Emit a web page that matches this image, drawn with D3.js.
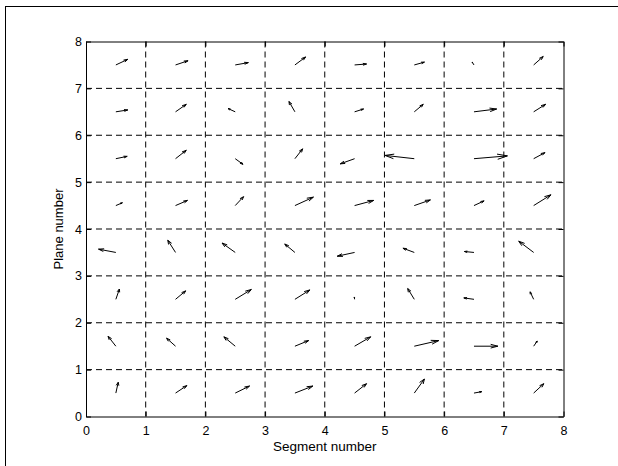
<!DOCTYPE html>
<html>

<head>
  <meta charset="utf8">
  <script src="https://d3js.org/d3.v7.min.js"></script>
  <style>
    body { margin: 0; background: #fff; }
    text { font-family: "Liberation Sans", Arial, sans-serif; fill: #000; }
  </style>
</head>

<body>
  <svg id="chart" width="618" height="466"></svg>
  <script>
    // arrow origins (cell centres)
    var segments = [0.5, 1.5, 2.5, 3.5, 4.5, 5.5, 6.5, 7.5];
    var planes = [0.5, 1.5, 2.5, 3.5, 4.5, 5.5, 6.5, 7.5];
    var ticks = [0, 1, 2, 3, 4, 5, 6, 7, 8];

    // u / v components, one row per plane (bottom row first)
    var U = [
      [0.04, 0.19, 0.24, 0.30, 0.20, 0.17, 0.13, 0.17],
      [-0.13, -0.15, -0.19, 0.23, 0.27, 0.41, 0.40, 0.06],
      [0.06, 0.17, 0.27, 0.25, -0.005, -0.11, -0.17, -0.06],
      [-0.29, -0.13, -0.22, -0.17, -0.29, -0.19, -0.16, -0.25],
      [0.11, 0.20, 0.14, 0.31, 0.32, 0.27, 0.17, 0.29],
      [0.19, 0.18, 0.13, 0.13, -0.24, -0.49, 0.56, 0.19],
      [0.20, 0.18, -0.12, -0.10, 0.15, 0.15, 0.38, 0.20],
      [0.20, 0.21, 0.22, 0.18, 0.20, 0.17, -0.03, 0.16]
    ];
    var V = [
      [0.23, 0.16, 0.15, 0.15, 0.20, 0.30, 0.03, 0.20],
      [0.21, 0.17, 0.20, 0.12, 0.20, 0.12, 0.00, 0.11],
      [0.22, 0.18, 0.21, 0.20, 0.05, 0.23, 0.03, 0.16],
      [0.07, 0.26, 0.20, 0.18, -0.08, 0.09, 0.02, 0.24],
      [0.06, 0.11, 0.19, 0.18, 0.11, 0.12, 0.10, 0.23],
      [0.05, 0.18, -0.12, 0.21, -0.11, 0.07, 0.06, 0.13],
      [0.04, 0.16, 0.07, 0.22, 0.06, 0.16, 0.06, 0.16],
      [0.12, 0.09, 0.05, 0.17, 0.02, 0.06, 0.06, 0.18]
    ];

    var chart = d3.select('#chart');
    var margin = { top: 41.5, right: 54.5, bottom: 49.5, left: 86 };
    var width = 618 - margin.left - margin.right;
    var height = 466 - margin.top - margin.bottom;

    // outer figure frame (only left/top edges visible)
    chart.append('rect')
      .attr('x', 5.5).attr('y', 6.5)
      .attr('width', 800).attr('height', 800)
      .attr('fill', 'none').attr('stroke', '#000');

    var x = d3.scaleLinear().domain([0, 8]).range([0, width]);
    var y = d3.scaleLinear().domain([0, 8]).range([height, 0]);

    var group = chart.append('g')
      .attr('transform', 'translate(' + margin.left + ',' + margin.top + ')');

    // dashed grid
    group.append('g').selectAll('line')
      .data(ticks.slice(1, -1))
      .enter().append('line')
      .attr('x1', (d) => x(d)).attr('x2', (d) => x(d))
      .attr('y1', 0).attr('y2', height)
      .attr('stroke', '#000').attr('stroke-dasharray', '6,4');
    group.append('g').selectAll('line')
      .data(ticks.slice(1, -1))
      .enter().append('line')
      .attr('y1', (d) => y(d)).attr('y2', (d) => y(d))
      .attr('x1', 0).attr('x2', width)
      .attr('stroke', '#000').attr('stroke-dasharray', '6,4');

    // axes, ticks pointing inward
    var axes = [
      [d3.axisBottom(x), 'translate(0,' + height + ')', true, 10],
      [d3.axisLeft(y), null, true, 4],
      [d3.axisTop(x), null, false, 0],
      [d3.axisRight(y), 'translate(' + width + ',0)', false, 0]
    ];
    axes.forEach(function (a) {
      var g = group.append('g')
        .call(a[0].tickValues(ticks).tickSizeInner(-5).tickSizeOuter(0).tickPadding(a[3]));
      if (a[1]) g.attr('transform', a[1]);
      g.selectAll('text').style('font-size', '12.5px').style('font-family', '"Liberation Sans", Arial, sans-serif');
      if (!a[2]) g.selectAll('text').remove();
      g.select('.domain').attr('stroke', '#000');
    });

    // arrows
    var alpha = 0.3, beta = 0.33;
    var arrows = [];
    planes.forEach(function (py, i) {
      segments.forEach(function (px, j) {
        arrows.push({ x: px, y: py, u: U[i][j], v: V[i][j] });
      });
    });
    var q = group.append('g').attr('stroke', '#000').attr('fill', 'none').attr('stroke-width', 1);
    q.selectAll('.shaft').data(arrows).enter().append('line')
      .attr('x1', (d) => x(d.x)).attr('y1', (d) => y(d.y))
      .attr('x2', (d) => x(d.x + d.u)).attr('y2', (d) => y(d.y + d.v));
    q.selectAll('.head').data(arrows).enter().append('path')
      .attr('d', function (d) {
        var tx = d.x + d.u, ty = d.y + d.v;
        return 'M' + x(tx - alpha * (d.u + beta * d.v)) + ',' + y(ty - alpha * (d.v - beta * d.u)) +
          'L' + x(tx) + ',' + y(ty) +
          'L' + x(tx - alpha * (d.u - beta * d.v)) + ',' + y(ty - alpha * (d.v + beta * d.u));
      });

    // labels
    group.append('text')
      .attr('x', width / 2).attr('y', height + 34.5)
      .attr('text-anchor', 'middle').style('font-size', '13.5px')
      .text('Segment number');
    group.append('text')
      .attr('transform', 'translate(-23,' + height / 2 + ') rotate(-90)')
      .attr('text-anchor', 'middle').style('font-size', '13px')
      .text('Plane number');
  </script>
</body>

</html>
